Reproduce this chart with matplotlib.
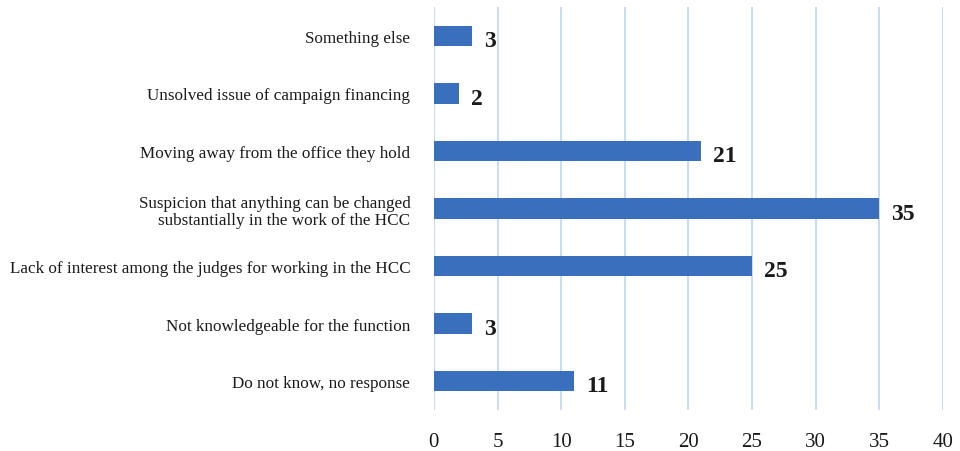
import matplotlib.pyplot as plt

categories = [
    "Something else",
    "Unsolved issue of campaign financing",
    "Moving away from the office they hold",
    "Suspicion that anything can be changed\nsubstantially in the work of the HCC",
    "Lack of interest among the judges for working in the HCC",
    "Not knowledgeable for the function",
    "Do not know, no response",
]
values = [3, 2, 21, 35, 25, 3, 11]
x_ticks = [0, 5, 10, 15, 20, 25, 30, 35, 40]

plt.rcParams['font.family'] = ['Liberation Serif', 'DejaVu Serif']

fig = plt.figure(figsize=(9.6, 4.52), dpi=100)
ax = fig.add_axes([0.452, 0.091, 0.530, 0.891])

ypos = list(range(len(categories)))
ax.barh(ypos, values, height=0.36, color='#3a6fbd', zorder=3)

for y, v in zip(ypos, values):
    ax.text(v + 0.95, y + 0.08, str(v), va='center', ha='left',
            fontsize=17, fontweight='bold', color='#1a1a1a', zorder=4)

ax.set_xlim(0, 40)
ax.set_ylim(len(categories) - 0.5, -0.5)
ax.set_xticks(x_ticks)
ax.set_xticklabels([str(t) for t in x_ticks], fontsize=15, color='#1a1a1a')
ax.set_yticks(ypos)
ax.set_yticklabels(categories, fontsize=12.3, color='#1a1a1a', linespacing=1.1)
for lbl in ax.get_yticklabels():
    lbl.set_multialignment('right')

ax.grid(axis='x', color='#c8ddf1', linewidth=1.4, zorder=0)
ax.tick_params(axis='both', length=0)
ax.tick_params(axis='x', pad=16)
ax.tick_params(axis='y', pad=17)
for s in ax.spines.values():
    s.set_visible(False)

fig.savefig('out.png', dpi=100, facecolor='white')
